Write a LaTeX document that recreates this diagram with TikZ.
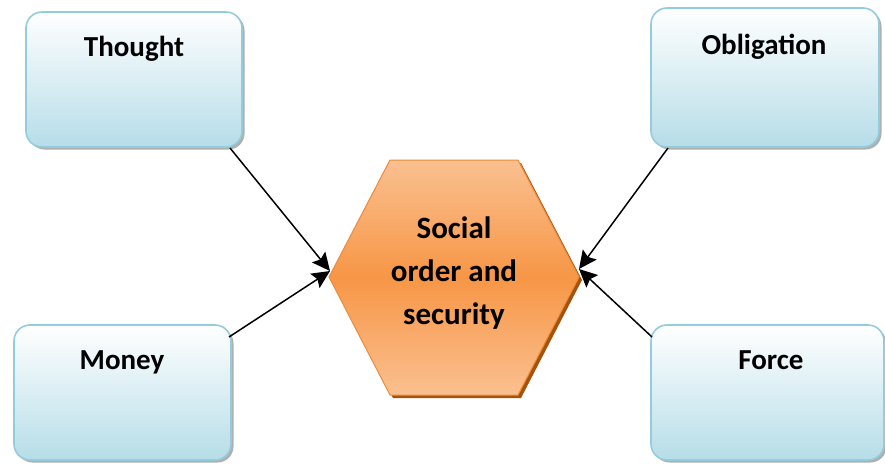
\documentclass[tikz,border=0pt]{standalone}
\usepackage{fontspec}
\setmainfont{Carlito}
\usetikzlibrary{arrows.meta,shadows}

\definecolor{boxedge}{HTML}{93CDDD}
\definecolor{boxlow}{HTML}{B6DDE8}
\definecolor{hexlight}{HTML}{FAC090}
\definecolor{hexmid}{HTML}{F79646}
\definecolor{hexedge}{HTML}{EE8A3A}
\definecolor{hexshadow}{HTML}{A5520C}

\tikzset{
  panel/.style={draw=boxedge, line width=1.6pt, rounded corners=16pt,
    top color=white, bottom color=boxlow,
    drop shadow={shadow xshift=2.5pt, shadow yshift=-2.5pt, fill=gray!70, opacity=0.9}},
  panellabel/.style={anchor=base, font=\bfseries\fontsize{29}{34}\selectfont, inner sep=0pt},
  link/.style={line width=1.5pt, -{Stealth[length=18pt, width=17pt, inset=3pt]}}
}

\begin{document}
\begin{tikzpicture}[x=1pt, y=-1pt]
\useasboundingbox (0,0) rectangle (885,463);

% four surrounding panels
\draw[panel] (26,12) rectangle (242,147);
\draw[panel] (651,8) rectangle (879,147);
\draw[panel] (14,325) rectangle (231,460);
\draw[panel] (651,325) rectangle (884,460);

\node[panellabel] (thought) at (134,56) {Thought};
\node[panellabel] (obligation) at (764,54) {Obligation};
\node[panellabel] (money) at (122,369) {Money};
\node[panellabel] (force) at (771,369) {Force};

% panel corners where the links start
\coordinate (thoughtC) at (230,148);
\coordinate (moneyC) at (229,337);
\coordinate (obligationC) at (668,148);
\coordinate (forceC) at (652,337);

% central hexagon with its shadow
\fill[hexshadow] (393,163) -- (521,163) -- (582,280) -- (521,398) -- (393,398) -- (332,280) -- cycle;
\path[draw=hexedge, line width=1pt, top color=hexlight, bottom color=hexlight, middle color=hexmid]
  (390,160) -- (518,160) -- (579,277) -- (518,395) -- (390,395) -- (329,277) -- cycle;
\coordinate (hexW) at (330,271);
\coordinate (hexE) at (579,269);
\node[align=center, font=\bfseries\fontsize{31}{43}\selectfont, inner sep=0pt] (centre) at (454,273)
  {Social\\order and\\security};

% links
\draw[link] (thoughtC) -- (hexW);
\draw[link] (moneyC) -- (hexW);
\draw[link] (obligationC) -- (hexE);
\draw[link] (forceC) -- (hexE);
\end{tikzpicture}
\end{document}
